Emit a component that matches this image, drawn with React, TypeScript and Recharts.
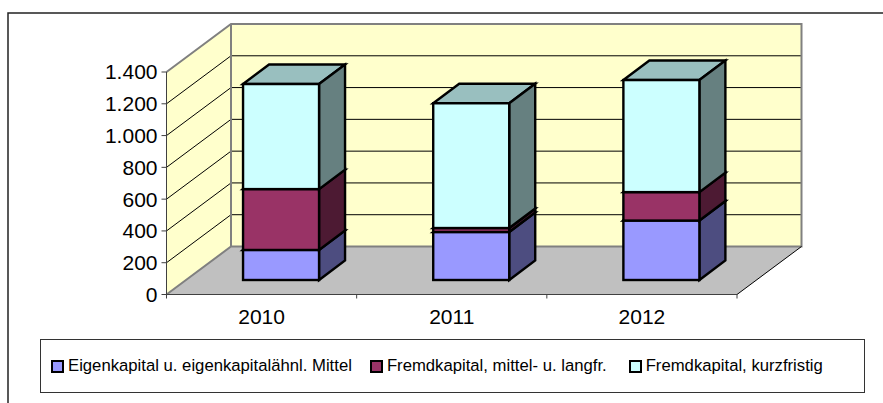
import { Bar, BarChart, Customized, Legend, XAxis, YAxis } from "recharts";

const years = ["2010", "2011", "2012"];
const eigenkapital = [189, 302, 374];
const fremdLang = [383, 25, 179];
const fremdKurz = [661, 785, 705];
const yTicks = [0, 200, 400, 600, 800, 1000, 1200, 1400];

const seriesNames = [
  "Eigenkapital u. eigenkapitalähnl. Mittel",
  "Fremdkapital, mittel- u. langfr.",
  "Fremdkapital, kurzfristig",
];

const data = years.map((year, i) => ({
  year,
  eigen: eigenkapital[i],
  lang: fremdLang[i],
  kurz: fremdKurz[i],
}));

const FONT = "'Liberation Sans', Arial, sans-serif";
const WIDTH = 883;
const HEIGHT = 403;

// front plane of the fake 3d box
const LEFT = 166.5;
const RIGHT = 737;
const TOP = 72;
const FLOOR = 294.5;
// depth of the box, and how far the bars sit inside it
const DEPTH_X = 64.5;
const DEPTH_Y = -48;
const BAR_SHIFT_X = 19.5;
const BAR_SHIFT_Y = -14.5;
const BAR_DEPTH_X = 26;
const BAR_DEPTH_Y = -19.5;
const LEGEND_GAPS = [18, 22, 0];

const yAt = (v: number) => FLOOR - (v / 1400) * (FLOOR - TOP);

function Walls() {
  const backL = LEFT + DEPTH_X;
  const backR = RIGHT + DEPTH_X;
  const backT = TOP + DEPTH_Y;
  const backB = FLOOR + DEPTH_Y;
  const bandW = (RIGHT - LEFT) / years.length;
  return (
    <g>
      <path d={`M8 ${HEIGHT} V13 H${WIDTH}`} fill="none" stroke="#222" strokeWidth={1.5} />
      <polygon
        points={`${LEFT},${TOP} ${backL},${backT} ${backL},${backB} ${LEFT},${FLOOR}`}
        fill="#FFFFCC"
      />
      <rect x={backL} y={backT} width={backR - backL} height={backB - backT} fill="#FFFFCC" />
      <polygon
        points={`${LEFT},${FLOOR} ${backL},${backB} ${backR},${backB} ${RIGHT},${FLOOR}`}
        fill="#C0C0C0"
      />
      {yTicks.slice(1, -1).map((t) => (
        <path
          key={t}
          d={`M${LEFT} ${yAt(t)} L${backL} ${yAt(t) + DEPTH_Y} H${backR}`}
          fill="none"
          stroke="#000"
          strokeWidth={1}
        />
      ))}
      <path
        d={`M${LEFT} ${TOP} L${backL} ${backT} H${backR} V${backB} H${backL} L${LEFT} ${FLOOR} M${backL} ${backT} V${backB}`}
        fill="none"
        stroke="#808080"
        strokeWidth={2}
      />
      <path d={`M${RIGHT} ${FLOOR} L${backR} ${backB}`} stroke="#000" strokeWidth={1} fill="none" />
      {[0, 1, 2, 3].map((i) => (
        <line
          key={i}
          x1={LEFT + i * bandW}
          x2={LEFT + i * bandW}
          y1={FLOOR}
          y2={FLOOR + 4}
          stroke="#404040"
        />
      ))}
    </g>
  );
}

const shade = (hex: string, f: number) => {
  const n = parseInt(hex.slice(1), 16);
  const c = [(n >> 16) & 255, (n >> 8) & 255, n & 255].map((v) => Math.round(v * f));
  return `rgb(${c[0]},${c[1]},${c[2]})`;
};

function Box3D(props: any) {
  const { x, y, width, height, fill } = props;
  const l = x + BAR_SHIFT_X;
  const r = l + width;
  const t = y + BAR_SHIFT_Y;
  const b = t + height;
  const dx = BAR_DEPTH_X;
  const dy = BAR_DEPTH_Y;
  const line = { stroke: "#000", strokeWidth: 2.4, strokeLinejoin: "miter" as const };
  return (
    <g>
      <polygon
        points={`${l},${t} ${l + dx},${t + dy} ${r + dx},${t + dy} ${r},${t}`}
        fill={shade(fill, 0.75)}
        {...line}
      />
      <polygon
        points={`${r},${t} ${r + dx},${t + dy} ${r + dx},${b + dy} ${r},${b}`}
        fill={shade(fill, 0.5)}
        {...line}
      />
      <rect x={l} y={t} width={width} height={height} fill={fill} {...line} />
    </g>
  );
}

function LegendBox({ payload }: any) {
  return (
    <div
      style={{
        boxSizing: "border-box",
        width: 825,
        height: 54,
        border: "1px solid #333",
        background: "#fff",
        display: "flex",
        alignItems: "center",
        paddingLeft: 10,
        fontFamily: FONT,
        fontSize: 16.7,
        color: "#000",
        whiteSpace: "nowrap",
      }}
    >
      {(payload ?? []).map((p: any, i: number) => (
        <span key={p.value} style={{ display: "flex", alignItems: "center", marginRight: LEGEND_GAPS[i] }}>
          <span
            style={{
              boxSizing: "border-box",
              width: 13,
              height: 13,
              border: "2px solid #000",
              background: p.color,
              marginRight: 4,
            }}
          />
          {p.value}
        </span>
      ))}
    </div>
  );
}

export default function App() {
  return (
    <div style={{ position: "absolute", left: 0, top: 0, width: WIDTH, height: HEIGHT, background: "#fff" }}>
      <BarChart
        width={WIDTH}
        height={HEIGHT}
        data={data}
        barCategoryGap="30%"
        margin={{ top: TOP, right: WIDTH - RIGHT, left: LEFT - 60, bottom: HEIGHT - FLOOR - 30 - 54 }}
      >
        <Customized component={<Walls />} />
        <XAxis
          dataKey="year"
          height={30}
          tickLine={false}
          axisLine={{ stroke: "#404040" }}
          tickMargin={9}
          tick={{ fill: "#000", fontSize: 21, fontFamily: FONT }}
        />
        <YAxis
          width={60}
          domain={[0, 1400]}
          ticks={yTicks}
          interval={0}
          tickSize={5}
          tickMargin={4}
          axisLine={{ stroke: "#404040" }}
          tickLine={{ stroke: "#404040" }}
          tickFormatter={(v: number) => String(v).replace(/\B(?=(\d{3})+$)/g, ".")}
          tick={{ fill: "#000", fontSize: 21, fontFamily: FONT }}
        />
        <Legend
          content={<LegendBox />}
          itemSorter={null}
          wrapperStyle={{ left: 40, bottom: 10, width: 825, height: 54 }}
        />
        <Bar dataKey="eigen" name={seriesNames[0]} stackId="a" fill="#9999FF" shape={<Box3D />} isAnimationActive={false} />
        <Bar dataKey="lang" name={seriesNames[1]} stackId="a" fill="#993366" shape={<Box3D />} isAnimationActive={false} />
        <Bar dataKey="kurz" name={seriesNames[2]} stackId="a" fill="#CCFFFF" shape={<Box3D />} isAnimationActive={false} />
      </BarChart>
    </div>
  );
}
